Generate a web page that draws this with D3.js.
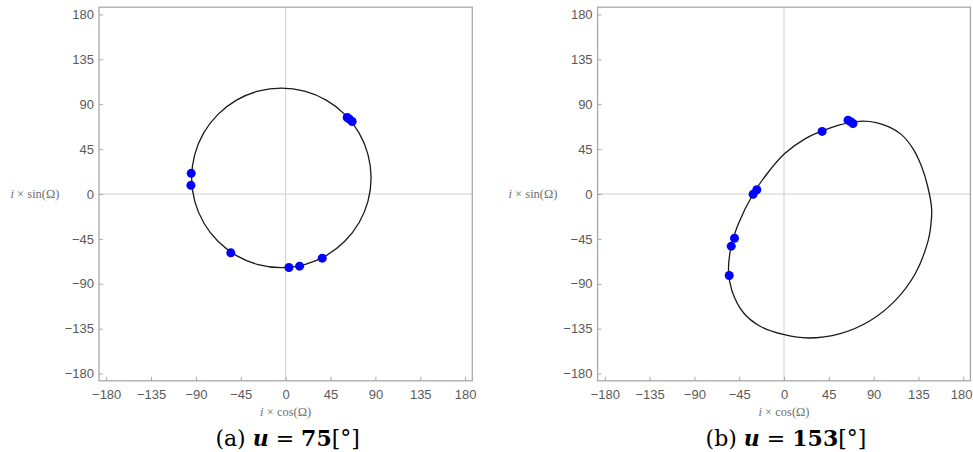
<!DOCTYPE html>
<html>
<head>
<meta charset="utf-8">
<script src="https://cdn.jsdelivr.net/npm/d3@7"></script>
<style>
  html, body { margin: 0; padding: 0; background: #fff; }
  svg { display: block; }
</style>
</head>
<body>
<svg id="chart" width="973" height="452"></svg>
<script>
// ---- data ----
const tickValues = [-180, -135, -90, -45, 0, 45, 90, 135, 180];
const tickLabels = ["\u2212180", "\u2212135", "\u221290", "\u221245", "0", "45", "90", "135", "180"];

// panel (a) u = 75°: closed curve and blue points
const curveA = [
  [85.7, 16.2], [82.6, 39.5], [73.6, 61.2], [59.3, 79.8], [40.7, 94.1], [19.0, 103.1],
  [-4.3, 106.2], [-27.6, 103.1], [-49.3, 94.1], [-67.9, 79.8], [-82.2, 61.2], [-91.2, 39.5],
  [-94.3, 16.2], [-91.2, -7.1], [-82.2, -28.8], [-67.9, -47.4], [-49.3, -61.7], [-27.6, -70.7],
  [-4.3, -73.8], [19.0, -70.7], [40.7, -61.7], [59.3, -47.4], [73.6, -28.8], [82.6, -7.1]
];
const pointsA = [
  [61.7, 76.7], [64.0, 75.0], [66.7, 72.7], [-94.7, 20.7], [-95.0, 8.7],
  [-55.0, -59.0], [3.3, -73.7], [14.0, -72.3], [36.7, -64.3]
];

// panel (b) u = 153°
const curveB = [
  [0.7, 40.5], [21.5, 55.5], [38.7, 63.2], [55.0, 69.0], [66.0, 71.6], [79.0, 73.1],
  [92.7, 71.6], [106.0, 67.0], [118.0, 59.5], [129.5, 45.5], [138.0, 28.0], [144.2, 8.0],
  [148.3, -15.0], [147.4, -31.9], [144.3, -48.5], [131.9, -79.7], [112.1, -106.4], [86.4, -127.0],
  [56.4, -139.9], [24.3, -144.3], [0.3, -141.0], [-24.0, -132.5], [-40.7, -119.0], [-52.3, -97.0],
  [-55.7, -77.0], [-53.3, -53.7], [-46.0, -30.3], [-31.0, 0.0], [-17.0, 20.3]
];
const pointsB = [
  [64.3, 74.0], [67.0, 72.4], [69.3, 70.7], [38.3, 62.7], [-27.3, 4.3],
  [-31.0, -0.3], [-49.7, -44.3], [-53.0, -52.3], [-55.0, -81.7]
];

const panels = [
  { curve: curveA, points: pointsA, x0: 99, x1: 472.3, letter: "(a) ", u: "75", yLabX: 35 },
  { curve: curveB, points: pointsB, x0: 597.6, x1: 970.4, letter: "(b) ", u: "153", yLabX: 533 }
];

const svg = d3.select("#chart");
const pad = 187.2;
const W = 973;

panels.forEach(p => {
  const x = d3.scaleLinear().domain([-pad, pad]).range([p.x0, p.x1]);
  const y = d3.scaleLinear().domain([-pad, pad]).range([380.8, 7.2]);
  const g = svg.append("g");

  // zero axes
  g.append("line").attr("x1", x(-pad)).attr("x2", x(pad)).attr("y1", y(0)).attr("y2", y(0))
    .attr("stroke", "#cfcfcf").attr("stroke-width", 1);
  g.append("line").attr("x1", x(0)).attr("x2", x(0)).attr("y1", y(-pad)).attr("y2", y(pad))
    .attr("stroke", "#cfcfcf").attr("stroke-width", 1);

  // frame
  g.append("rect").attr("x", x(-pad)).attr("y", y(pad))
    .attr("width", x(pad) - x(-pad)).attr("height", y(-pad) - y(pad))
    .attr("fill", "none").attr("stroke", "#a8a8a8").attr("stroke-width", 1.3);

  // axes (ticks + labels)
  const fmt = d => tickLabels[tickValues.indexOf(d)];
  const xAxis = d3.axisBottom(x).tickValues(tickValues).tickFormat(fmt).tickSizeInner(-4).tickSizeOuter(0).tickPadding(9);
  const yAxis = d3.axisLeft(y).tickValues(tickValues).tickFormat(fmt).tickSizeInner(-4).tickSizeOuter(0).tickPadding(9);
  const gx = g.append("g").attr("transform", `translate(0,${y(-pad)})`).call(xAxis);
  const gy = g.append("g").attr("transform", `translate(${x(-pad)},0)`).call(yAxis);
  [gx, gy].forEach(a => {
    a.select(".domain").remove();
    a.selectAll(".tick line").attr("stroke", "#a8a8a8").attr("stroke-width", 1);
    a.selectAll(".tick text").attr("fill", "#5a5a5a")
      .style("font-family", "'Liberation Sans', Arial, sans-serif").style("font-size", "13px");
  });
  gy.selectAll(".tick text").attr("x", -5);
  // keep the last x tick label inside the page
  gx.selectAll(".tick").each(function (d) {
    const t = d3.select(this).select("text");
    const bb = t.node().getBBox();
    const right = x(d) + bb.width / 2;
    if (right > W - 1) t.attr("text-anchor", "end").attr("x", (W - 1) - x(d));
  });

  // curve
  const line = d3.line().x(d => x(d[0])).y(d => y(d[1])).curve(d3.curveCatmullRomClosed.alpha(0.5));
  g.append("path").datum(p.curve).attr("d", line)
    .attr("fill", "none").attr("stroke", "#1a1a1a").attr("stroke-width", 1.3);

  // points
  g.selectAll("circle.pt").data(p.points).enter().append("circle")
    .attr("class", "pt").attr("cx", d => x(d[0])).attr("cy", d => y(d[1])).attr("r", 4.5)
    .attr("fill", "#0000ff");

  // axis labels
  const lab = (sel, fn) => {
    sel.style("font-family", "'Liberation Serif', 'Times New Roman', serif").style("font-size", "12.5px")
      .attr("fill", "#707070");
    sel.append("tspan").style("font-style", "italic").text("i");
    sel.append("tspan").text(" \u00d7 " + fn + "(\u03a9)");
  };
  const xl = g.append("text").attr("x", x(0)).attr("y", 416).attr("text-anchor", "middle");
  lab(xl, "cos");
  const yl = g.append("text").attr("x", p.yLabX).attr("y", y(0) + 4).attr("text-anchor", "middle");
  lab(yl, "sin");

  // caption
  const cap = g.append("text").attr("x", x(0) + 2).attr("y", 446).attr("text-anchor", "middle")
    .style("font-family", "'DejaVu Serif', 'Liberation Serif', serif").style("font-size", "22px")
    .attr("fill", "#000");
  cap.append("tspan").text(p.letter);
  cap.append("tspan").style("font-weight", "bold").style("font-style", "italic").text("u");
  cap.append("tspan").text(" = ");
  cap.append("tspan").style("font-weight", "bold").text(p.u);
  cap.append("tspan").text("[\u00b0]");
});
</script>
</body>
</html>
